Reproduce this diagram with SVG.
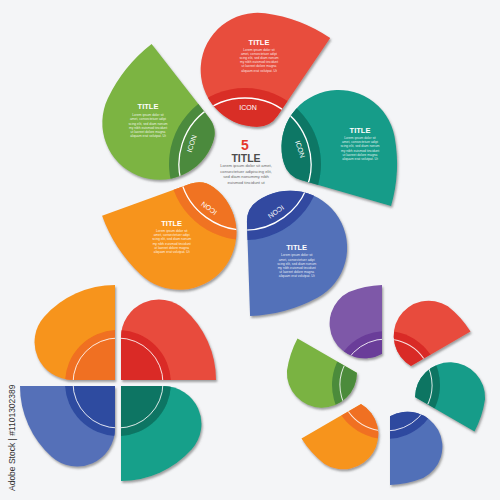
<svg xmlns="http://www.w3.org/2000/svg" xmlns:xlink="http://www.w3.org/1999/xlink" width="500" height="500" viewBox="0 0 500 500">
<style>
.ttl{font-family:"Liberation Sans",Arial,sans-serif;font-weight:bold;fill:#fff;text-anchor:middle;font-size:7.5px}
.txt{font-family:"Liberation Sans",Arial,sans-serif;fill:#fff;fill-opacity:.88;text-anchor:middle;font-size:3.3px}
.icon{font-family:"Liberation Sans",Arial,sans-serif;fill:#fff;font-size:7px;text-anchor:middle;dominant-baseline:central}
.ring{fill:none;stroke:#fff;stroke-width:1.3}
.ringS{fill:none;stroke:#fff;stroke-opacity:.85;stroke-width:1}
</style>
<defs>
<filter id="sh" x="-15%" y="-15%" width="140%" height="140%"><feDropShadow dx="1.2" dy="2" stdDeviation="0.8" flood-color="#555" flood-opacity="0.55"/></filter>
<path id="pA" d="M85.2,-125.9 A152,152 0 0 0 20.1,-150.7 A57,57 0 1 0 11.4,-37.2 A25,25 0 0 0 32.6,-48.2 Z"/>
<path id="pB" d="M-3,-98 A95,95 0 0 0 -73.8,-66.3 A38,38 0 0 0 -45.5,-3 L-3,-3 Z"/>
<path id="pD" d="M-4,-99.9 A100,100 0 0 0 -37.2,-92.9 A35,35 0 1 0 -4,-31.3 Z"/>
<clipPath id="cA"><use xlink:href="#pA"/></clipPath>
<clipPath id="cB"><use xlink:href="#pB"/></clipPath>
<clipPath id="cD"><use xlink:href="#pD"/></clipPath>
</defs>
<rect width="500" height="500" fill="#f4f5f7"/>

<!-- Top flower, center (245,164) -->
<g id="top-red">
<g filter="url(#sh)"><g transform="translate(245,164)"><use xlink:href="#pA" fill="#E84D3D"/><g clip-path="url(#cA)"><circle r="76" fill="#D92D26"/><circle r="66" class="ring"/></g></g></g>
<text class="icon" transform="translate(245,164)" x="3" y="-57">ICON</text>
<text class="ttl" x="259" y="44.7">TITLE</text>
<text class="txt" x="259" y="50.5"><tspan x="259">Lorem ipsum dolor sit</tspan><tspan x="259" dy="4.2">amet, consectetuer adipi</tspan><tspan x="259" dy="4.2">scing elit, sed diam nonum</tspan><tspan x="259" dy="4.2">my nibh euismod tincidunt</tspan><tspan x="259" dy="4.2">ut laoreet dolore magna</tspan><tspan x="259" dy="4.2">aliquam erat volutpat. Ut</tspan></text>
</g>
<g id="top-teal">
<g filter="url(#sh)"><g transform="translate(245,164) rotate(72)"><use xlink:href="#pA" fill="#139C89"/><g clip-path="url(#cA)"><circle r="76" fill="#0E7765"/><circle r="66" class="ring"/></g></g></g>
<text class="icon" transform="translate(245,164) rotate(72)" x="3" y="-57">ICON</text>
<text class="ttl" x="360" y="132.7">TITLE</text>
<text class="txt" x="360" y="139"><tspan x="360">Lorem ipsum dolor sit</tspan><tspan x="360" dy="4.2">amet, consectetuer adipi</tspan><tspan x="360" dy="4.2">scing elit, sed diam nonum</tspan><tspan x="360" dy="4.2">my nibh euismod tincidunt</tspan><tspan x="360" dy="4.2">ut laoreet dolore magna</tspan><tspan x="360" dy="4.2">aliquam erat volutpat. Ut</tspan></text>
</g>
<g id="top-blue">
<g filter="url(#sh)"><g transform="translate(245,164) rotate(144)"><use xlink:href="#pA" fill="#5271B9"/><g clip-path="url(#cA)"><circle r="76" fill="#3049A0"/><circle r="66" class="ring"/></g></g></g>
<text class="icon" transform="translate(245,164) rotate(144)" x="3" y="-57">ICON</text>
<text class="ttl" x="296.7" y="250.4">TITLE</text>
<text class="txt" x="296.7" y="256.3"><tspan x="296.7">Lorem ipsum dolor sit</tspan><tspan x="296.7" dy="4.2">amet, consectetuer adipi</tspan><tspan x="296.7" dy="4.2">scing elit, sed diam nonum</tspan><tspan x="296.7" dy="4.2">my nibh euismod tincidunt</tspan><tspan x="296.7" dy="4.2">ut laoreet dolore magna</tspan><tspan x="296.7" dy="4.2">aliquam erat volutpat. Ut</tspan></text>
</g>
<g id="top-orange">
<g filter="url(#sh)"><g transform="translate(245,164) rotate(216)"><use xlink:href="#pA" fill="#F7941E"/><g clip-path="url(#cA)"><circle r="76" fill="#F07321"/><circle r="66" class="ring"/></g></g></g>
<text class="icon" transform="translate(245,164) rotate(216)" x="3" y="-57">ICON</text>
<text class="ttl" x="171.7" y="226">TITLE</text>
<text class="txt" x="171.7" y="232"><tspan x="171.7">Lorem ipsum dolor sit</tspan><tspan x="171.7" dy="4.2">amet, consectetuer adipi</tspan><tspan x="171.7" dy="4.2">scing elit, sed diam nonum</tspan><tspan x="171.7" dy="4.2">my nibh euismod tincidunt</tspan><tspan x="171.7" dy="4.2">ut laoreet dolore magna</tspan><tspan x="171.7" dy="4.2">aliquam erat volutpat. Ut</tspan></text>
</g>
<g id="top-green">
<g filter="url(#sh)"><g transform="translate(245,164) rotate(288)"><use xlink:href="#pA" fill="#7BB443"/><g clip-path="url(#cA)"><circle r="76" fill="#4C8A3C"/><circle r="66" class="ring"/></g></g></g>
<text class="icon" transform="translate(245,164) rotate(288)" x="3" y="-57">ICON</text>
<text class="ttl" x="148" y="109.4">TITLE</text>
<text class="txt" x="148" y="116.2"><tspan x="148">Lorem ipsum dolor sit</tspan><tspan x="148" dy="4.2">amet, consectetuer adipi</tspan><tspan x="148" dy="4.2">scing elit, sed diam nonum</tspan><tspan x="148" dy="4.2">my nibh euismod tincidunt</tspan><tspan x="148" dy="4.2">ut laoreet dolore magna</tspan><tspan x="148" dy="4.2">aliquam erat volutpat. Ut</tspan></text>
</g>
<g id="top-center">
<text x="245" y="150" font-family="Liberation Sans, Arial, sans-serif" font-weight="bold" font-size="14" fill="#E5392C" text-anchor="middle">5</text>
<text x="246" y="161.7" font-family="Liberation Sans, Arial, sans-serif" font-weight="bold" font-size="10.5" fill="#4d4d4d" text-anchor="middle">TITLE</text>
<text font-family="Liberation Sans, Arial, sans-serif" font-size="4.2" fill="#6b6b6b" text-anchor="middle"><tspan x="246" y="167.2">Lorem ipsum dolor sit amet,</tspan><tspan x="246" y="172.8">consectetuer adipiscing elit,</tspan><tspan x="246" y="178.4">sed diam nonummy nibh</tspan><tspan x="246" y="184">euismod tincidunt ut</tspan></text>
</g>

<!-- Bottom-left 4-petal flower, center (118,383) -->
<g id="q-orange" filter="url(#sh)"><g transform="translate(118,383)"><use xlink:href="#pB" fill="#F7941D"/><g clip-path="url(#cB)"><circle r="53" fill="#F07020"/><circle r="45" class="ringS"/></g></g></g>
<g id="q-red" filter="url(#sh)"><g transform="translate(118,383) rotate(90)"><use xlink:href="#pB" fill="#E84C3D"/><g clip-path="url(#cB)"><circle r="53" fill="#DA2B27"/><circle r="45" class="ringS"/></g></g></g>
<g id="q-teal" filter="url(#sh)"><g transform="translate(118,383) rotate(180)"><use xlink:href="#pB" fill="#14A08A"/><g clip-path="url(#cB)"><circle r="53" fill="#0E7563"/><circle r="45" class="ringS"/></g></g></g>
<g id="q-blue" filter="url(#sh)"><g transform="translate(118,383) rotate(270)"><use xlink:href="#pB" fill="#5470B8"/><g clip-path="url(#cB)"><circle r="53" fill="#2E4BA0"/><circle r="45" class="ringS"/></g></g></g>

<!-- Bottom-right 6-petal flower, center (386,385) -->
<g id="h-purple" filter="url(#sh)"><g transform="translate(386,385)"><use xlink:href="#pD" fill="#7E58A8"/><g clip-path="url(#cD)"><circle r="54" fill="#6A3C99"/><circle r="46" class="ringS"/></g></g></g>
<g id="h-red" filter="url(#sh)"><g transform="translate(386,385) rotate(60)"><use xlink:href="#pD" fill="#E84C3D"/><g clip-path="url(#cD)"><circle r="54" fill="#D92B27"/><circle r="46" class="ringS"/></g></g></g>
<g id="h-teal" filter="url(#sh)"><g transform="translate(386,385) rotate(120)"><use xlink:href="#pD" fill="#149C89"/><g clip-path="url(#cD)"><circle r="54" fill="#0D7562"/><circle r="46" class="ringS"/></g></g></g>
<g id="h-blue" filter="url(#sh)"><g transform="translate(386,385) rotate(180)"><use xlink:href="#pD" fill="#5170B8"/><g clip-path="url(#cD)"><circle r="54" fill="#2F489F"/><circle r="46" class="ringS"/></g></g></g>
<g id="h-orange" filter="url(#sh)"><g transform="translate(386,385) rotate(240)"><use xlink:href="#pD" fill="#F7941E"/><g clip-path="url(#cD)"><circle r="54" fill="#F07021"/><circle r="46" class="ringS"/></g></g></g>
<g id="h-green" filter="url(#sh)"><g transform="translate(386,385) rotate(300)"><use xlink:href="#pD" fill="#7AB342"/><g clip-path="url(#cD)"><circle r="54" fill="#4B8B3B"/><circle r="46" class="ringS"/></g></g></g>

<g id="connectors"/>
<text transform="translate(15,491) rotate(-90)" font-family="Liberation Sans, Arial, sans-serif" font-size="8.5" fill="#333">Adobe Stock | #1101302389</text>
</svg>
